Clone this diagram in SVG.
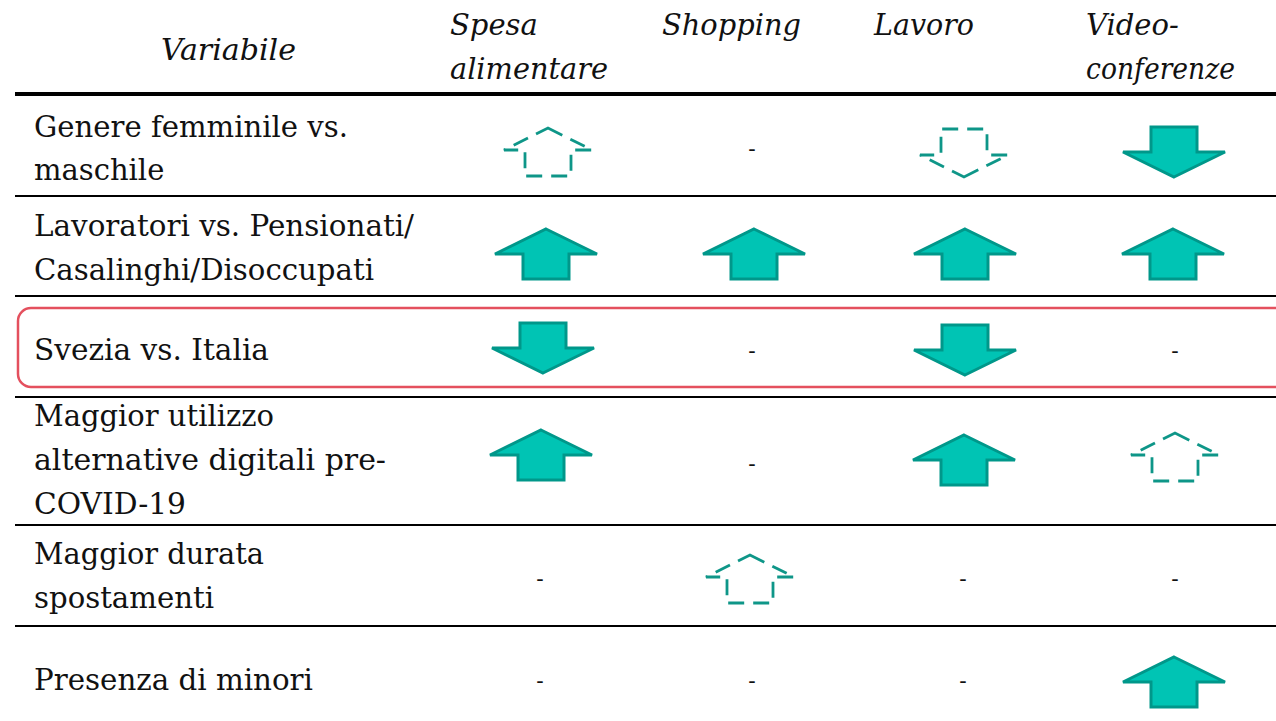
<svg xmlns="http://www.w3.org/2000/svg" width="1276" height="721" viewBox="0 0 1276 721">
<style>
.t{font-family:"DejaVu Serif","Liberation Serif",serif;font-size:29px;fill:#111}
.h{font-family:"DejaVu Serif","Liberation Serif",serif;font-size:29px;font-style:italic;fill:#111}
.d{font-family:"DejaVu Serif","Liberation Serif",serif;font-size:22px;fill:#111;text-anchor:middle}
.sol{fill:#00c4b4;stroke:#00978a;stroke-width:3;stroke-linejoin:miter}
.das{fill:none;stroke:#0e9688;stroke-width:2.8;stroke-dasharray:16 9}
.rule{stroke:#000;stroke-width:2}
</style>
<defs>
<path id="up" d="M0,-25 L51,0 L23,0 L23,25 L-23,25 L-23,0 L-51,0 Z"/>
<path id="dn" d="M0,25 L51,0 L23,0 L23,-25 L-23,-25 L-23,0 L-51,0 Z"/>
<path id="dup" d="M0,-24 L44,-2 L23,-2 L23,24 L-23,24 L-23,-2 L-44,-2 Z"/>
<path id="ddn" d="M0,24 L44,2 L23,2 L23,-24 L-23,-24 L-23,2 L-44,2 Z"/>
</defs>
<rect width="1276" height="721" fill="#fff"/>
<g id="header">
<text class="h" x="161" y="60" textLength="135" lengthAdjust="spacingAndGlyphs">Variabile</text>
<text class="h" x="450" y="35">Spesa</text>
<text class="h" x="450" y="79" textLength="158" lengthAdjust="spacingAndGlyphs">alimentare</text>
<text class="h" x="662" y="35" textLength="139" lengthAdjust="spacingAndGlyphs">Shopping</text>
<text class="h" x="874" y="35" textLength="100" lengthAdjust="spacingAndGlyphs">Lavoro</text>
<text class="h" x="1086" y="35">Video-</text>
<text class="h" x="1086" y="79" textLength="149" lengthAdjust="spacingAndGlyphs">conferenze</text>
</g>
<g id="rules">
<line x1="15" y1="94" x2="1276" y2="94" stroke="#000" stroke-width="4"/>
<line class="rule" x1="15" y1="196" x2="1276" y2="196"/>
<line class="rule" x1="15" y1="296" x2="1276" y2="296"/>
<line class="rule" x1="15" y1="397" x2="1276" y2="397"/>
<line class="rule" x1="15" y1="525" x2="1276" y2="525"/>
<line class="rule" x1="15" y1="626" x2="1276" y2="626"/>
</g>
<g id="highlight">
<rect x="18" y="308" width="1270" height="79" rx="13" fill="none" stroke="#e4505e" stroke-width="2.5"/>
</g>
<g id="row1">
<text class="t" x="34" y="137" textLength="314" lengthAdjust="spacingAndGlyphs">Genere femminile vs.</text>
<text class="t" x="34" y="180">maschile</text>
<use href="#dup" class="das" x="548" y="152"/>
<text class="d" x="752" y="156">-</text>
<use href="#ddn" class="das" x="964" y="153"/>
<use href="#dn" class="sol" x="1174" y="152"/>
</g>
<g id="row2">
<text class="t" x="34" y="236" textLength="380" lengthAdjust="spacingAndGlyphs">Lavoratori vs. Pensionati/</text>
<text class="t" x="34" y="280" textLength="340" lengthAdjust="spacingAndGlyphs">Casalinghi/Disoccupati</text>
<use href="#up" class="sol" x="546" y="254"/>
<use href="#up" class="sol" x="754" y="254"/>
<use href="#up" class="sol" x="965" y="254"/>
<use href="#up" class="sol" x="1173" y="254"/>
</g>
<g id="row3">
<text class="t" x="34" y="360" textLength="235" lengthAdjust="spacingAndGlyphs">Svezia vs. Italia</text>
<use href="#dn" class="sol" x="543" y="348"/>
<text class="d" x="752" y="358">-</text>
<use href="#dn" class="sol" x="965" y="350"/>
<text class="d" x="1175" y="358">-</text>
</g>
<g id="row4">
<text class="t" x="34" y="426" textLength="240" lengthAdjust="spacingAndGlyphs">Maggior utilizzo</text>
<text class="t" x="34" y="470" textLength="352" lengthAdjust="spacingAndGlyphs">alternative digitali pre-</text>
<text class="t" x="34" y="514" textLength="152" lengthAdjust="spacingAndGlyphs">COVID-19</text>
<use href="#up" class="sol" x="541" y="455"/>
<text class="d" x="752" y="471">-</text>
<use href="#up" class="sol" x="964" y="460"/>
<use href="#dup" class="das" x="1175" y="457"/>
</g>
<g id="row5">
<text class="t" x="34" y="564" textLength="230" lengthAdjust="spacingAndGlyphs">Maggior durata</text>
<text class="t" x="34" y="608" textLength="180" lengthAdjust="spacingAndGlyphs">spostamenti</text>
<text class="d" x="540" y="586">-</text>
<use href="#dup" class="das" x="750" y="579"/>
<text class="d" x="963" y="586">-</text>
<text class="d" x="1175" y="586">-</text>
</g>
<g id="row6">
<text class="t" x="34" y="690" textLength="279" lengthAdjust="spacingAndGlyphs">Presenza di minori</text>
<text class="d" x="540" y="688">-</text>
<text class="d" x="752" y="688">-</text>
<text class="d" x="963" y="688">-</text>
<use href="#up" class="sol" x="1174" y="682"/>
</g>
</svg>
